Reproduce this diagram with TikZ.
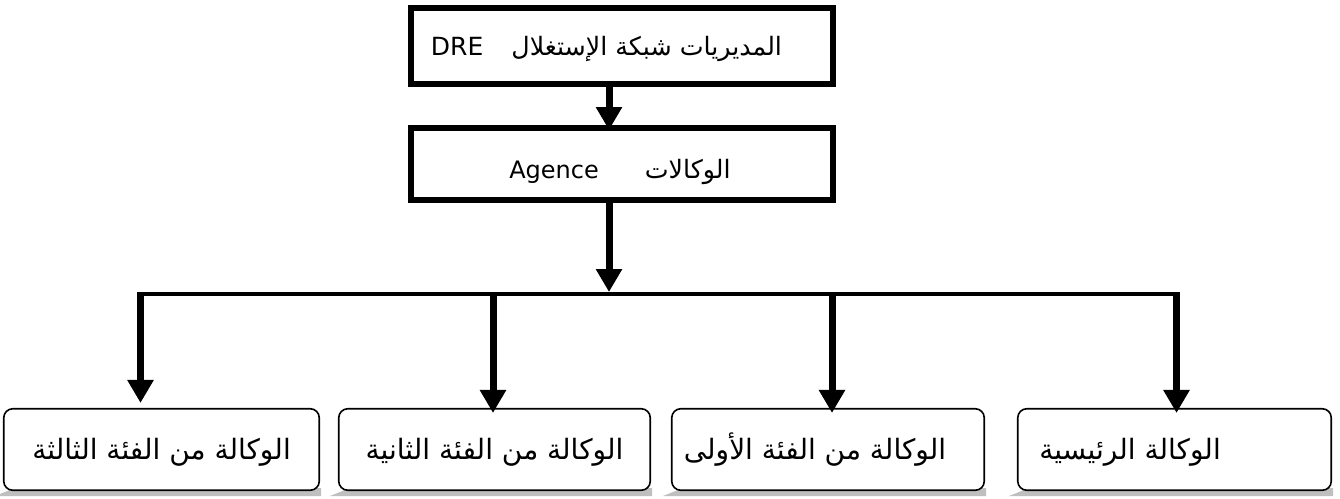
\documentclass[tikz,border=0pt]{standalone}
\usepackage{fontspec}
\setmainfont{DejaVu Sans}
\newfontfamily\arabicfont[Script=Arabic]{DejaVu Sans}
\TeXXeTstate=1
\usetikzlibrary{arrows.meta}
\pgfdeclarelayer{bg}
\pgfsetlayers{bg,main}
\tikzset{
  topbox/.style={draw, line width=6pt, minimum width=422pt, minimum height=76pt, inner sep=0pt, fill=white,
    font=\arabicfont\fontsize{25.3}{30}\selectfont, text height=22pt, text depth=3pt},
  catbox/.style={draw, line width=1.6pt, rounded corners=9pt, fill=white, minimum height=81.5pt, inner sep=0pt,
    font=\arabicfont\fontsize{28}{32}\selectfont, text height=23pt, text depth=4pt},
  bigarrow/.style={line width=7pt, -{Triangle[width=25pt,length=23pt]}},
  barline/.style={line width=4pt},
  shadowfill/.style={fill=gray!50, draw=none},
}
\newcommand{\ar}[1]{{\arabicfont\beginR #1\endR}}
\newcommand{\lat}[2]{{\fontspec{DejaVu Sans}\fontsize{#1}{#1}\selectfont #2}}
\begin{document}
\begin{tikzpicture}[x=1pt,y=-1pt]
\useasboundingbox (0,0) rectangle (1340,498);

% top boxes
\node[topbox] (dre) at (622,46)
  {\lat{25}{DRE}\hspace{28pt}\ar{المديريات شبكة الإستغلال}\hspace*{31pt}};
\node[topbox, minimum height=72pt, text height=31pt, text depth=2pt] (agence) at (622,164)
  {\lat{24}{Agence}\hspace{46pt}\ar{الوكالات}\hspace*{4pt}};

% bottom boxes
\node[catbox, minimum width=315.5pt] (b1) at (161.5,449.5) {\ar{الوكالة من الفئة الثالثة}};
\node[catbox, minimum width=311.5pt] (b2) at (494.5,449.5) {\ar{الوكالة من الفئة الثانية}};
\node[catbox, minimum width=312.5pt] (b3) at (828,449.5) {\ar{الوكالة من الفئة الأولى}\hspace*{26pt}};
\node[catbox, minimum width=313.5pt] (b4) at (1174.5,449.5) {\ar{الوكالة الرئيسية}\hspace*{89pt}};

% shadows
\begin{pgfonlayer}{bg}
\foreach \b in {b1,b2,b3,b4}{
  \fill[shadowfill] ([xshift=12pt,yshift=3pt]\b.south west) -- ([xshift=1pt,yshift=3pt]\b.south east)
    -- ([xshift=1pt,yshift=-5pt]\b.south east) -- ([xshift=-8pt,yshift=-5pt]\b.south west) -- cycle;
}
\end{pgfonlayer}

% connectors
\coordinate (c1) at (609,0);
\draw[bigarrow, shorten >=-5pt] (dre.south -| c1) -- (agence.north -| c1);

\coordinate (bus) at (609,294);
\coordinate (busL) at (137,294);
\coordinate (busR) at (1180,294);
\draw[barline] (busL) -- (busR);
\draw[bigarrow, shorten >=2pt] (agence.south -| bus) -- (bus);

\coordinate (j1) at (140.5,292);
\coordinate (j2) at (493,292);
\coordinate (j3) at (832,292);
\coordinate (j4) at (1176.5,292);
\draw[bigarrow, shorten >=5pt] (j1) -- (b1.north -| j1);
\draw[bigarrow, shorten >=-5pt] (j2) -- (b2.north -| j2);
\draw[bigarrow, shorten >=-5pt] (j3) -- (b3.north -| j3);
\draw[bigarrow, shorten >=-5pt] (j4) -- (b4.north -| j4);
\end{tikzpicture}
\end{document}
